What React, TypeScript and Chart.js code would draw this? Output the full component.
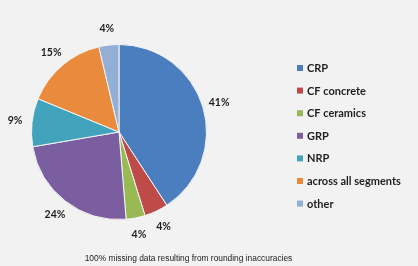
import React, { useEffect, useRef } from "react";
import { Chart, registerables } from "chart.js";

Chart.register(...registerables);

const categories = ["CRP", "CF concrete", "CF ceramics", "GRP", "NRP", "across all segments", "other"];
const shares = [40.8, 4.4, 3.5, 23.6, 8.9, 15.1, 3.7];
const colors = ["#4A7EBE", "#BE4B48", "#98B954", "#7B5E9F", "#42A3BC", "#E98A3C", "#93AFD6"];
const footnote = "100% missing data resulting from rounding inaccuracies";

const overlayPlugin = {
  id: "overlay",
  afterDatasetsDraw(chart: any) {
    const ctx = chart.ctx as CanvasRenderingContext2D;
    const meta = chart.getDatasetMeta(0);
    ctx.save();
    // slice labels
    ctx.font = "bold 10.5px Lato";
    ctx.fillStyle = "#1f1f1f";
    ctx.textAlign = "center";
    ctx.textBaseline = "middle";
    meta.data.forEach((arc: any, i: number) => {
      const p = arc.getProps(["x", "y", "startAngle", "endAngle", "outerRadius"], true);
      const mid = (p.startAngle + p.endAngle) / 2;
      const r = p.outerRadius + 17;
      ctx.fillText(Math.round(shares[i]) + "%", p.x + r * Math.cos(mid), p.y + r * Math.sin(mid));
    });
    // legend
    ctx.font = "bold 11px Lato";
    ctx.textAlign = "left";
    ctx.textBaseline = "middle";
    categories.forEach((c, i) => {
      const y = 68 + i * 22.6;
      ctx.fillStyle = colors[i];
      ctx.fillRect(297, y - 3, 6, 6);
      ctx.fillStyle = "#1f1f1f";
      ctx.fillText(c, 307, y + 0.5);
    });
    // footnote
    ctx.font = "8.4px 'Liberation Sans'";
    ctx.fillStyle = "#222";
    ctx.textAlign = "center";
    ctx.fillText(footnote, 188.5, 259);
    ctx.restore();
  },
};

export default function App() {
  const ref = useRef<HTMLCanvasElement | null>(null);
  useEffect(() => {
    if (!ref.current) return;
    const chart = new Chart(ref.current, {
      type: "pie",
      data: {
        labels: categories,
        datasets: [
          {
            data: shares,
            backgroundColor: colors,
            borderColor: "#f4f4f4",
            borderWidth: 1,
          },
        ],
      },
      options: {
        responsive: false,
        animation: false,
        layout: { padding: { left: 31, right: 211, top: 44, bottom: 46 } },
        plugins: {
          legend: { display: false },
          tooltip: { enabled: false },
        },
      },
      plugins: [overlayPlugin],
    });
    return () => chart.destroy();
  }, []);
  return (
    <div style={{ position: "fixed", left: 0, top: 0, width: 418, height: 266, background: "#f2f2f2" }}>
      <canvas ref={ref} width={418} height={266} style={{ display: "block" }} />
    </div>
  );
}
